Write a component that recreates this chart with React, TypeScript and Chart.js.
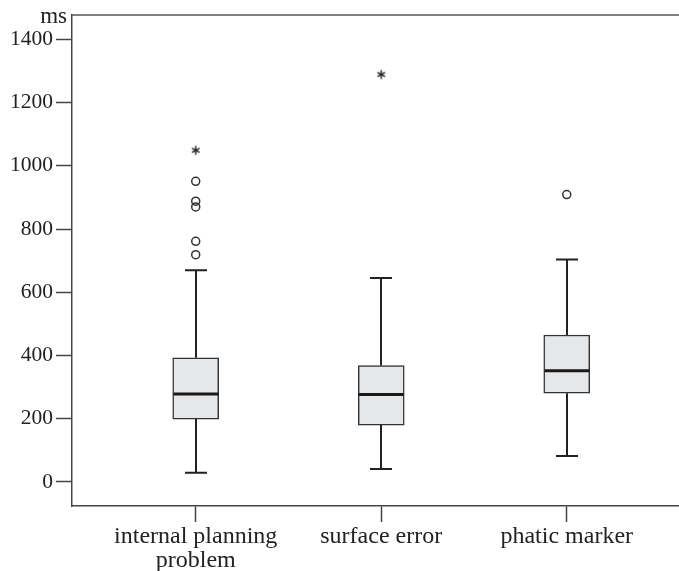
import { useEffect, useRef } from 'react';
import { Chart, registerables } from 'chart.js';

Chart.register(...registerables);

// ---- data ----
const categories: string[][] = [['internal planning', 'problem'], ['surface error'], ['phatic marker']];
const whiskerLow = [29, 41, 82];
const q1 = [199, 180, 281];
const median = [278, 277, 352];
const q3 = [393, 368, 465];
const whiskerHigh = [670, 645, 704];
const outliersCircle: number[][] = [[719, 761, 870, 888, 951], [], [909]];
const outliersStar: number[][] = [[1049], [1289], []];
const yTicks = [0, 200, 400, 600, 800, 1000, 1200, 1400];

const FONT = '"Liberation Serif", "Times New Roman", serif';

function makeStar(): HTMLCanvasElement {
  const c = document.createElement('canvas');
  c.width = 12;
  c.height = 12;
  const g = c.getContext('2d')!;
  g.strokeStyle = '#222';
  g.lineWidth = 1.4;
  const cx = 6, cy = 6, r = 4.4;
  for (let i = 0; i < 3; i++) {
    const a = Math.PI / 2 + (i * Math.PI) / 3;
    g.beginPath();
    g.moveTo(cx + r * Math.cos(a), cy + r * Math.sin(a));
    g.lineTo(cx - r * Math.cos(a), cy - r * Math.sin(a));
    g.stroke();
  }
  return c;
}

const boxExtras = {
  id: 'boxExtras',
  afterDatasetsDraw(chart: any) {
    const { ctx, chartArea, scales } = chart;
    const x = scales.x, y = scales.y;
    ctx.save();
    ctx.strokeStyle = '#222';
    ctx.lineWidth = 2;
    const cap = 11;
    for (let i = 0; i < categories.length; i++) {
      const px = Math.round(x.getPixelForValue(i + 1));
      const yl = y.getPixelForValue(whiskerLow[i]);
      const y1 = y.getPixelForValue(q1[i]);
      const y3 = y.getPixelForValue(q3[i]);
      const yh = y.getPixelForValue(whiskerHigh[i]);
      ctx.beginPath();
      ctx.moveTo(px, yl); ctx.lineTo(px, y1);
      ctx.moveTo(px, y3); ctx.lineTo(px, yh);
      ctx.moveTo(px - cap, yl); ctx.lineTo(px + cap, yl);
      ctx.moveTo(px - cap, yh); ctx.lineTo(px + cap, yh);
      ctx.stroke();
      const ym = y.getPixelForValue(median[i]);
      ctx.save();
      ctx.strokeStyle = '#1a1a1a';
      ctx.lineWidth = 3;
      ctx.beginPath();
      ctx.moveTo(px - 22.5, ym); ctx.lineTo(px + 22.5, ym);
      ctx.stroke();
      ctx.restore();
    }
    // top border
    ctx.strokeStyle = '#555';
    ctx.lineWidth = 1.5;
    ctx.beginPath();
    ctx.moveTo(chartArea.left, chartArea.top);
    ctx.lineTo(chartArea.right, chartArea.top);
    ctx.stroke();
    // unit label
    ctx.fillStyle = '#222';
    ctx.font = `23px ${FONT}`;
    ctx.textAlign = 'right';
    ctx.textBaseline = 'alphabetic';
    ctx.fillText('ms', chartArea.left - 5, chartArea.top + 8);
    ctx.restore();
  },
};

export default function App() {
  const ref = useRef<HTMLCanvasElement | null>(null);
  useEffect(() => {
    if (!ref.current) return;
    const star = makeStar();
    const circleData: any[] = [];
    const starData: any[] = [];
    outliersCircle.forEach((arr, i) => arr.forEach((v) => circleData.push({ x: i + 1, y: v })));
    outliersStar.forEach((arr, i) => arr.forEach((v) => starData.push({ x: i + 1, y: v })));
    const chart = new Chart(ref.current, {
      type: 'bar',
      data: {
        datasets: [
          {
            type: 'bar',
            data: categories.map((_, i) => ({ x: i + 1, y: [q1[i], q3[i]] })) as any,
            backgroundColor: '#e6e7e8',
            borderColor: '#333',
            borderWidth: 1.5,
            borderSkipped: false,
            barThickness: 46,
          } as any,
          {
            type: 'scatter',
            data: circleData,
            pointStyle: 'circle',
            pointRadius: 4,
            pointBorderWidth: 1.5,
            pointBorderColor: '#333',
            pointBackgroundColor: 'rgba(0,0,0,0)',
          } as any,
          {
            type: 'scatter',
            data: starData,
            pointStyle: star,
            pointRadius: 6,
          } as any,
        ],
      },
      options: {
        responsive: false,
        animation: false,
        devicePixelRatio: 1,
        layout: { autoPadding: false, padding: { top: 15, right: 0, left: 0, bottom: 0 } },
        plugins: { legend: { display: false }, tooltip: { enabled: false } },
        scales: {
          x: {
            type: 'linear',
            offset: false,
            min: 0.3332,
            max: 3.605,
            afterBuildTicks: (s: any) => {
              s.ticks = categories.map((_, i) => ({ value: i + 1 }));
            },
            afterFit: (s: any) => {
              s.height = 65;
              s.paddingLeft = 0;
              s.paddingRight = 0;
            },
            ticks: {
              autoSkip: false,
              maxRotation: 0,
              padding: 3,
              color: '#222',
              font: { family: FONT, size: 24, lineHeight: 1.0 },
              callback: (v: any) => categories[Math.round(v) - 1] as any,
            },
            grid: {
              offset: false,
              drawOnChartArea: false,
              drawTicks: true,
              tickLength: 16,
              tickColor: '#444',
              tickWidth: 1.5,
            },
            border: { display: true, color: '#444', width: 1.5 },
          },
          y: {
            type: 'linear',
            min: -76,
            max: 1477,
            afterBuildTicks: (s: any) => {
              s.ticks = yTicks.map((v) => ({ value: v }));
            },
            afterFit: (s: any) => {
              s.width = 72;
              s.paddingTop = 0;
              s.paddingBottom = 0;
            },
            ticks: {
              padding: 3,
              color: '#222',
              font: { family: FONT, size: 21.5 },
              callback: (v: any) => String(v),
            },
            grid: {
              drawOnChartArea: false,
              drawTicks: true,
              tickLength: 16,
              tickColor: '#444',
              tickWidth: 1.5,
            },
            border: { display: true, color: '#444', width: 1.5 },
          },
        },
      },
      plugins: [boxExtras],
    });
    return () => chart.destroy();
  }, []);
  return (
    <div style={{ position: 'fixed', left: 0, top: 0, width: 679, height: 571, background: '#fff' }}>
      <canvas ref={ref} width={679} height={571} style={{ width: 679, height: 571, display: 'block' }} />
    </div>
  );
}
